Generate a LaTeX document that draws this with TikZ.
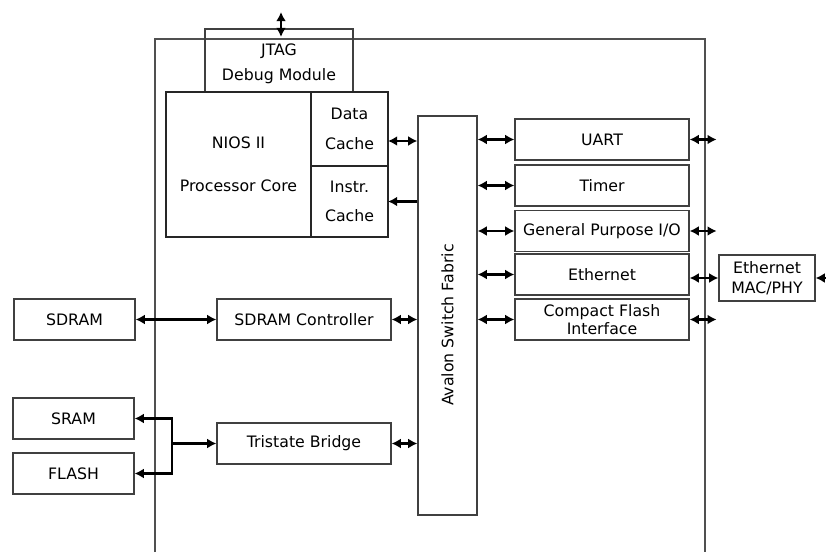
\documentclass[tikz,border=0pt]{standalone}
\usepackage{fontspec}
\setmainfont{DejaVu Sans}
\usetikzlibrary{arrows.meta,positioning,calc}
\definecolor{boxgray}{RGB}{64,64,64}
\definecolor{chipgray}{RGB}{80,80,80}

\begin{document}
\begin{tikzpicture}[>={Latex[length=6.5pt,width=7pt]},
  font=\fontsize{11.2}{13.4}\selectfont,
  blk/.style={draw=boxgray,line width=0.9pt,minimum width=4.35cm,
              minimum height=1.025cm,align=center,inner sep=1pt},
  mem/.style={blk,minimum width=3.025cm},
  cpu/.style={draw=black!85,line width=1.3pt,align=center,inner sep=1pt,outer sep=0pt},
  bus/.style={line width=1.6pt}]
  \useasboundingbox (0,0) rectangle (20.65,13.8);
  %% FPGA outline (open at the bottom)
  \draw[chipgray,line width=1pt] (3.875,0) -- (3.875,12.825) -- (17.625,12.825) -- (17.625,0);
  %% Processor
  \node[blk,minimum width=3.7cm,minimum height=1.575cm] (jtag) at (6.975,12.2875) {};
  \node[align=center] (jtaglbl) at ($(jtag.center)+(0,-0.09)$) {JTAG\\[4.4pt]Debug Module};
  \node[cpu,minimum width=3.625cm,minimum height=3.625cm] (core) at (5.9625,9.6875)
        {NIOS II\\[17pt]Processor Core};
  \node[cpu,anchor=north west,minimum width=1.925cm,minimum height=1.85cm]
        (dcache) at (core.north east) {Data\\[8pt]Cache};
  \node[cpu,anchor=north,minimum width=1.925cm,minimum height=1.775cm]
        (icache) at (dcache.south) {Instr.\\[7pt]Cache};
  %% Switch fabric
  \node[blk,minimum width=1.475cm,minimum height=9.975cm] (avalon) at (11.1875,5.9125) {};
  \node[rotate=90] (avalonlbl) at ($(avalon.center)+(0,-0.24)$) {Avalon Switch Fabric};
  %% Peripherals
  \node[blk] (uart)  at (15.05,10.3125) {UART};
  \node[blk] (timer) at (15.05,9.1625) {Timer};
  \node[blk] (gpio)  at (15.05,8.025) {General Purpose I/O};
  \node[blk] (eth)   at (15.05,6.9375) {Ethernet};
  \node[blk] (cf)    at (15.05,5.8125) {Compact Flash\\[-0.6pt]Interface};
  \node[blk,minimum width=2.4cm,minimum height=1.15cm] (mac) at (19.175,6.85)
        {Ethernet\\[0.8pt]MAC/PHY};
  %% Memory side
  \node[blk] (sdramctl) at (7.6,5.8125) {SDRAM Controller};
  \node[blk] (tri)      at (7.6,2.7125) {Tristate Bridge};
  \node[mem] (sdram) at (1.8625,5.8125) {SDRAM};
  \node[mem] (sram)  at (1.8375,3.3375) {SRAM};
  \node[mem] (flash) at (1.8375,1.9625) {FLASH};
  %% Connections
  \coordinate (jtagio) at (7.025,13.5);
  \coordinate (jtagin) at (7.025,12.875);
  \draw[bus,<->] (jtagin) -- (jtagio);
  \coordinate (dport) at ([yshift=-0.3cm]dcache.east);
  \draw[bus,<->] (dport) -- (dport -| avalon.west);
  \draw[bus,->] (icache.east -| avalon.west) -- (icache.east);
  \foreach \n in {uart,timer,gpio,eth,cf}
    \draw[bus,<->] (avalon.east |- \n.west) -- (\n.west);
  \foreach \n in {uart,gpio,cf}
    \draw[bus,<->] (\n.east) -- ++(0.675,0);
  \draw[bus,<->] (eth.east |- mac.west) -- (mac.west);
  \coordinate (phyio) at (20.65,6.85);
  \draw[bus,->] (phyio) -- (mac.east);
  \draw[bus,<->] (sdram.east) -- (sdramctl.west);
  \draw[bus,<->] (sdramctl.east) -- (sdramctl.east -| avalon.west);
  \draw[bus,<->] (tri.east) -- (tri.east -| avalon.west);
  \coordinate (membus) at (4.3,2.7125);
  \draw[bus,->] (membus) -- (tri.west);
  \draw[bus,->] (membus) |- (sram.east);
  \draw[bus,->] (membus) |- (flash.east);
\end{tikzpicture}
\end{document}
